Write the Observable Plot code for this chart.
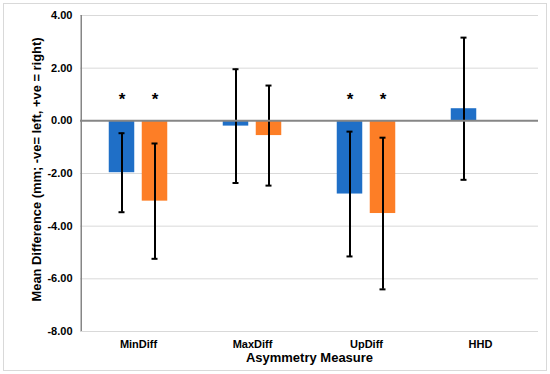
<!DOCTYPE html>
<html>
<head>
<meta charset="utf-8">
<script src="https://cdn.jsdelivr.net/npm/d3@7"></script>
<script src="https://cdn.jsdelivr.net/npm/@observablehq/plot@0.6"></script>
<style>
  html, body { margin: 0; padding: 0; background: #fff; }
  #wrap { position: relative; width: 550px; height: 374px; }
  #frame { position: absolute; left: 3px; top: 3px; width: 542px; height: 366px; border: 1px solid #d9d9d9; pointer-events: none; }
  svg { font-family: "Liberation Sans", Arial, sans-serif; font-weight: bold; }
</style>
</head>
<body>
<div id="wrap"><div id="frame"></div></div>
<script>
const categories = ["MinDiff", "MaxDiff", "UpDiff", "HHD"];
// series 1 (blue)
const blueMean = [-1.97, -0.20, -2.78, 0.46];
const blueErr  = [1.50, 2.16, 2.37, 2.70];
const blueSig  = [true, false, true, false];
// series 2 (orange); HHD has no value
const orangeMean = [-3.05, -0.56, -3.52, null];
const orangeErr  = [2.19, 1.90, 2.88, null];
const orangeSig  = [true, false, true, false];
const yTicks = [4, 2, 0, -2, -4, -6, -8];
const yTitle = "Mean Difference (mm; -ve= left, +ve = right)";
const xTitle = "Asymmetry Measure";

const blue = categories.map((c, i) => ({cat: c, mean: blueMean[i], err: blueErr[i], sig: blueSig[i]}));
const orange = categories.map((c, i) => ({cat: c, mean: orangeMean[i], err: orangeErr[i], sig: orangeSig[i]})).filter(d => d.mean != null);

const BLUE = "#1f6fc7", ORANGE = "#fd7e26";
const OFF = 16.5;        // half distance between paired bars
const BAR_INSET = 44.25; // (band - barWidth)/2
const CAP_INSET = 54;
const HALF_BAND = 57.25;

function series(data, color, dx) {
  return [
    Plot.barY(data, {x: "cat", y: "mean", fill: color, dx, insetLeft: BAR_INSET, insetRight: BAR_INSET}),
    Plot.ruleX(data, {x: "cat", y1: d => d.mean - d.err, y2: d => d.mean + d.err, stroke: "#000", strokeWidth: 2, dx}),
    Plot.tickY(data, {x: "cat", y: d => d.mean - d.err, stroke: "#000", strokeWidth: 2, dx, insetLeft: CAP_INSET, insetRight: CAP_INSET}),
    Plot.tickY(data, {x: "cat", y: d => d.mean + d.err, stroke: "#000", strokeWidth: 2, dx, insetLeft: CAP_INSET, insetRight: CAP_INSET}),
    Plot.text(data.filter(d => d.sig), {x: "cat", y: 0, text: () => "*", dx, dy: -21, fontSize: 17, fontWeight: "bold", fill: "#000"})
  ];
}

const chart = Plot.plot({
  width: 550,
  height: 374,
  marginLeft: 80,
  marginRight: 12,
  marginTop: 15,
  marginBottom: 43,
  style: {fontSize: "11px", fontFamily: "'Liberation Sans', Arial, sans-serif", fontWeight: "bold", color: "#000"},
  x: {domain: categories, padding: 0},
  y: {domain: [-8, 4]},
  marks: [
    Plot.ruleY(yTicks.filter(t => t !== 0), {stroke: "#d9d9d9", strokeWidth: 1, strokeOpacity: 1}),
    ...series(blue, BLUE, -OFF),
    ...series(orange, ORANGE, OFF),
    Plot.ruleY([0], {stroke: "#868686", strokeWidth: 2}),
    Plot.ruleX([categories[0]], {dx: -HALF_BAND, y1: -8, y2: 4, stroke: "#868686", strokeWidth: 1.5}),
    Plot.axisY({ticks: yTicks, tickFormat: d => d.toFixed(2), tickSize: 0, tickPadding: 8, label: null, fontSize: 11}),
    Plot.axisX({tickSize: 0, tickPadding: 9, label: null, fontSize: 11}),
    Plot.text([yTitle], {text: d => d, frameAnchor: "left", textAnchor: "middle", lineAnchor: "middle", rotate: -90, dx: -44, dy: -4, fontSize: 12.9, fontWeight: "bold", fill: "#000"}),
    Plot.text([xTitle], {text: d => d, frameAnchor: "bottom", textAnchor: "middle", lineAnchor: "middle", dy: 26.5, fontSize: 13, fontWeight: "bold", fill: "#000"})
  ]
});
document.getElementById("wrap").prepend(chart);
</script>
</body>
</html>
